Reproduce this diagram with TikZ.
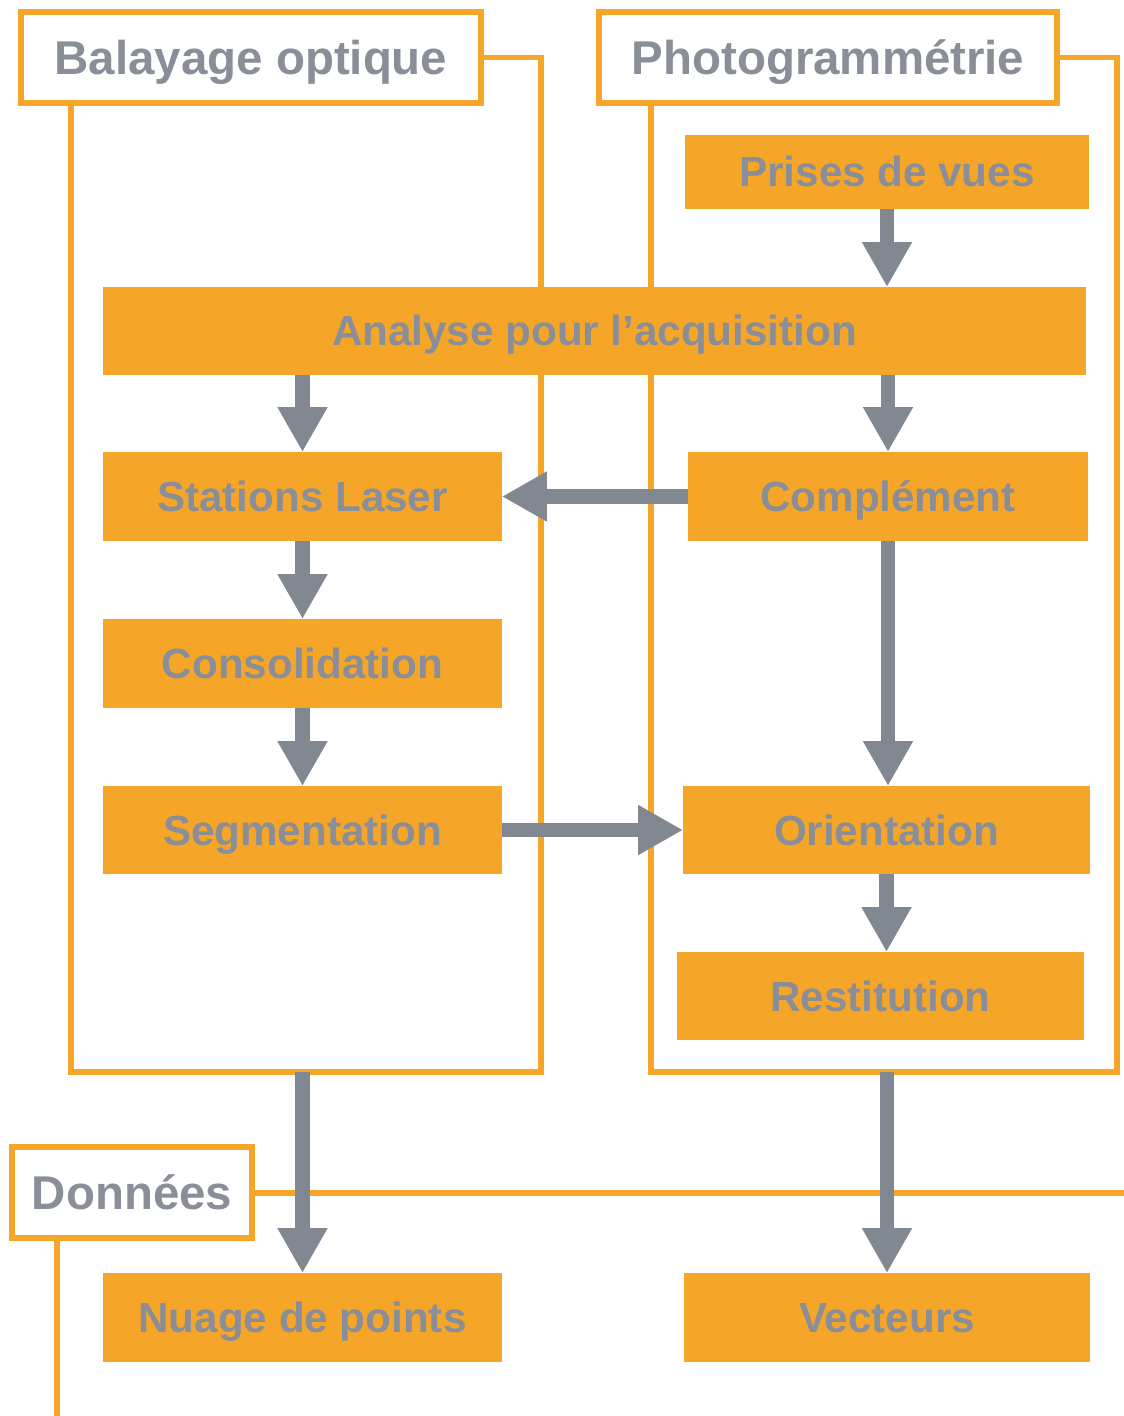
\documentclass[tikz,border=0pt]{standalone}
\usepackage{fontspec}
\setmainfont{Liberation Sans}
\usepackage{xcolor}
\usepackage{tikz}
\usetikzlibrary{arrows.meta, calc}
\definecolor{acqorange}{RGB}{245, 166, 40}
\definecolor{textgray}{RGB}{138, 142, 152}
\definecolor{flowgray}{RGB}{130, 136, 146}
\pgfdeclarelayer{background}
\pgfsetlayers{background,main}

\begin{document}
\begin{tikzpicture}[x=0.02cm, y=-0.02cm,
    stepbox/.style={fill=acqorange, text=textgray, inner sep=0pt, outer sep=0pt,
          minimum height=1.78cm, text height=0.6cm, text depth=-0.04cm,
          font=\fontsize{24}{28}\selectfont\bfseries},
    headbox/.style={draw=acqorange, fill=white, line width=3.4pt, text=textgray,
          inner sep=0pt, outer sep=0pt, minimum height=1.82cm,
          text height=0.68cm, text depth=-0.04cm,
          font=\fontsize{27}{32}\selectfont\bfseries},
    frameline/.style={draw=acqorange, line width=3.4pt},
    flowarrow/.style={draw=flowgray, line width=8.5pt,
          -{Triangle[length=0.9cm, width=0.94cm]}}]
    \useasboundingbox (0,0) rectangle (1123,1416);

    \node[headbox, minimum width=9.2cm] (balayage) at (251,57.5) {Balayage optique};
    \node[headbox, minimum width=9.16cm] (photo) at (828,57.5) {Photogrammétrie};
    \node[headbox, minimum width=4.82cm] (donnees) at (132,1192.5) {Données};

    \node[stepbox, minimum width=8.08cm, minimum height=1.48cm] (prises) at (887,172) {Prises de vues};
    \node[stepbox, minimum width=19.66cm, minimum height=1.76cm] (analyse) at (594.5,331) {Analyse pour l’acquisition};
    \node[stepbox, minimum width=7.98cm] (stations) at (302.5,496.5) {Stations Laser};
    \node[stepbox, minimum width=8cm] (complement) at (888,496.5) {Complément};
    \node[stepbox, minimum width=7.98cm] (consolidation) at (302.5,663.5) {Consolidation};
    \node[stepbox, minimum width=7.98cm, minimum height=1.76cm] (segmentation) at (302.5,830) {Segmentation};
    \node[stepbox, minimum width=8.14cm, minimum height=1.76cm] (orientation) at (886.5,830) {Orientation};
    \node[stepbox, minimum width=8.14cm, minimum height=1.76cm] (restitution) at (880.5,996) {Restitution};
    \node[stepbox, minimum width=7.98cm] (nuage) at (302.5,1317.5) {Nuage de points};
    \node[stepbox, minimum width=8.14cm] (vecteurs) at (887,1317.5) {Vecteurs};

    \coordinate (lfbl) at (71,1072);
    \coordinate (lfbr) at (541,1072);
    \coordinate (rfbl) at (651,1072);
    \coordinate (rfbr) at (1117,1072);
    \coordinate (dfbl) at (57,1419);
    \coordinate (dfbr) at (1140,1419);

    \begin{pgfonlayer}{background}
        \fill[white] (0,0) rectangle (1123,1416);
        \draw[frameline] (balayage.east) -| (lfbr) -- (lfbl) -- (lfbl |- balayage.south);
        \draw[frameline] (photo.east) -| (rfbr) -- (rfbl) -- (rfbl |- photo.south);
        \draw[frameline] (donnees.east) -- (dfbr |- donnees.east);
        \draw[frameline] (dfbl |- donnees.south) -- (dfbl) -- (dfbr);
    \end{pgfonlayer}

    \draw[flowarrow] (prises.south) -- (prises |- analyse.north);
    \draw[flowarrow] (stations |- analyse.south) -- (stations.north);
    \draw[flowarrow] (complement |- analyse.south) -- (complement.north);
    \draw[flowarrow] (complement.west) -- (stations.east);
    \draw[flowarrow] (stations.south) -- (consolidation.north);
    \draw[flowarrow] (consolidation.south) -- (segmentation.north);
    \draw[flowarrow] (complement.south) -- (complement.south |- orientation.north);
    \draw[flowarrow] (segmentation.east) -- (orientation.west);
    \draw[flowarrow] (orientation.south) -- (orientation.south |- restitution.north);
    \draw[flowarrow] (nuage |- lfbl) -- (nuage.north);
    \draw[flowarrow] (vecteurs |- rfbl) -- (vecteurs.north);
\end{tikzpicture}
\end{document}
